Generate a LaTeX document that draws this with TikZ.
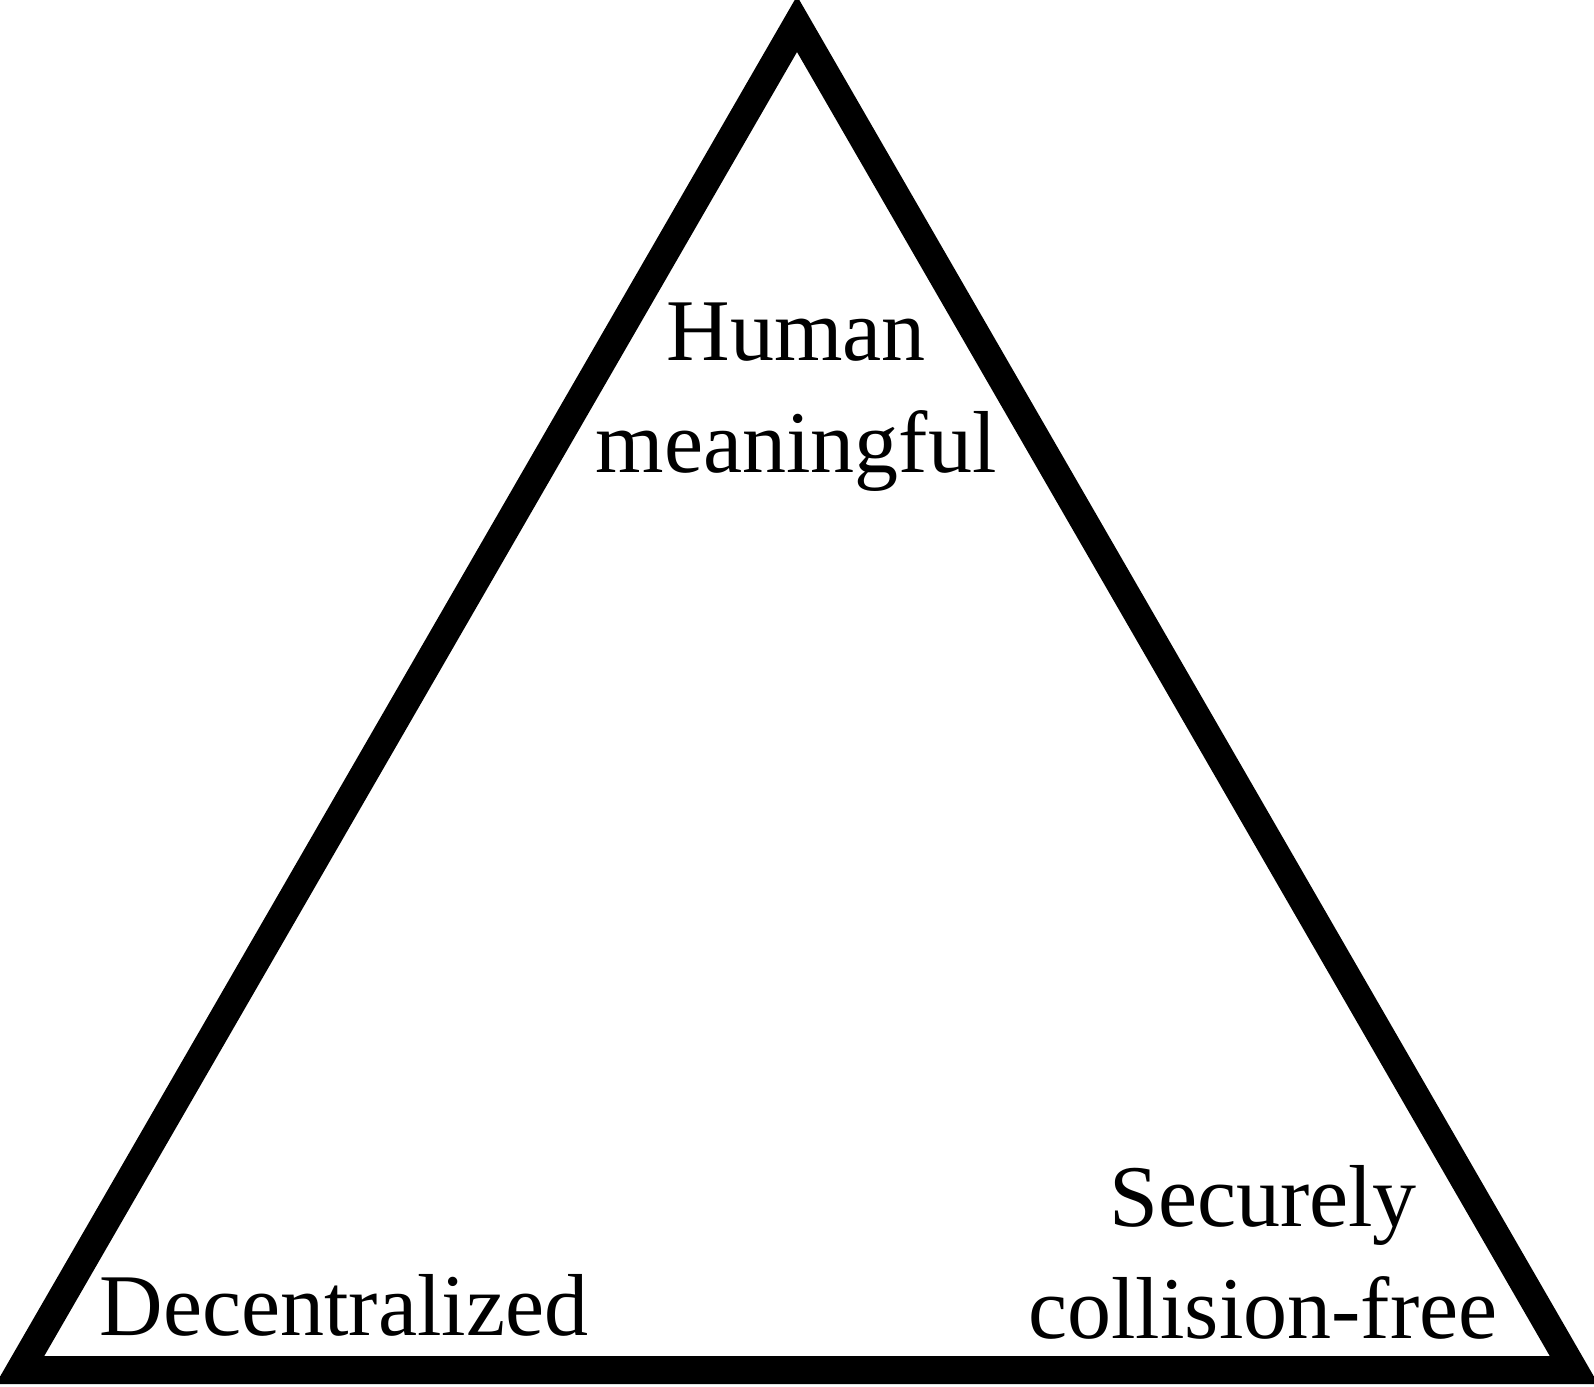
\documentclass[tikz,border=0pt]{standalone}
\usepackage{fontspec}
\setmainfont{Liberation Serif}
\begin{document}
\begin{tikzpicture}[x=1pt,y=-1pt,
  edge/.style={line width=28pt,line join=miter,draw=black},
  lbl/.style={inner sep=0pt,align=center,font=\fontsize{88pt}{112pt}\selectfont,anchor=base}]
\useasboundingbox (0,0) rectangle (1594,1386);
\coordinate (top) at (797,24);
\coordinate (bl) at (20,1370);
\coordinate (br) at (1574,1370);
\draw[edge] (top) -- (bl) -- (br) -- cycle;
\node[lbl] (hm) at (796,472) {Human\\meaningful};
\node[lbl] (dc) at (344,1335) {Decentralized};
\node[lbl] (sc) at (1263,1338) {Securely\\collision-free};
\end{tikzpicture}
\end{document}
